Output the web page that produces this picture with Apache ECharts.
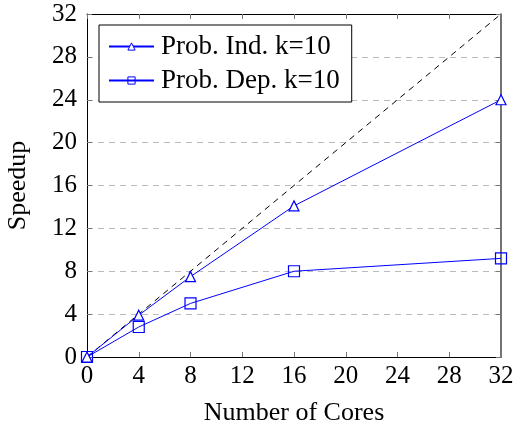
<!DOCTYPE html>
<html><head><meta charset="utf-8">
<script src="https://cdn.jsdelivr.net/npm/echarts@6/dist/echarts.min.js"></script>
<style>html,body{margin:0;padding:0;background:#fff}#c{width:514px;height:425px}</style>
</head><body><div id="c"></div>
<script>
const cores = [0, 4, 8, 16, 32];
const indK10 = [0, 3.9, 7.5, 14.1, 24];
const depK10 = [0, 2.8, 5.0, 8.0, 9.2];
const idealX = [0, 32];
const idealY = [0, 32];
const xTicks = [0, 4, 8, 12, 16, 20, 24, 28, 32];
const yTicks = [0, 4, 8, 12, 16, 20, 24, 28, 32];

const F = 'Liberation Serif';
const chart = echarts.init(document.getElementById('c'), null, {renderer: 'canvas'});
const pair = (xs, ys) => xs.map((x, i) => [x, ys[i]]);
const axBase = {
  type: 'value', min: 0, max: 32, interval: 4,
  axisLine: {show: true, onZero: false, lineStyle: {color: '#000', width: 1}},
  axisTick: {show: true, inside: true, length: 5, lineStyle: {color: '#777'}},
};
chart.setOption({
  animation: false,
  grid: {left: 87, right: 13, top: 14, bottom: 68, containLabel: false, outerBoundsMode: 'none'},
  legend: {
    data: ['Prob. Ind. k=10', 'Prob. Dep. k=10'],
    orient: 'vertical', left: 99, top: 25,
    backgroundColor: '#fff', borderColor: '#000', borderWidth: 1,
    padding: [8, 12, 8, 9], itemGap: 7, itemWidth: 45, itemHeight: 9,
    itemStyle: {borderWidth: 1},
    textStyle: {fontFamily: F, fontSize: 27, color: '#000', padding: [0, 0, 0, 2]}
  },
  xAxis: [
    Object.assign({}, axBase, {
      position: 'bottom', name: 'Number of Cores', nameLocation: 'middle', nameGap: 43,
      nameTextStyle: {fontFamily: F, fontSize: 26, color: '#000'},
      axisLabel: {fontFamily: F, fontSize: 25, color: '#000', margin: 7,
        formatter: v => xTicks.includes(v) ? String(v) : ''},
      splitLine: {show: false}
    }),
    Object.assign({}, axBase, {position: 'top', axisLabel: {show: false}, splitLine: {show: false}})
  ],
  yAxis: [
    Object.assign({}, axBase, {
      position: 'left', name: 'Speedup', nameLocation: 'middle', nameGap: 56,
      nameTextStyle: {fontFamily: F, fontSize: 26, color: '#000'},
      axisLabel: {fontFamily: F, fontSize: 25, color: '#000', margin: 10,
        formatter: v => yTicks.includes(v) ? String(v) : ''},
      splitLine: {show: true, lineStyle: {color: '#bbb', type: [6, 5], width: 1}}
    }),
    Object.assign({}, axBase, {position: 'right', axisLabel: {show: false}, splitLine: {show: false},
      axisLine: {show: true, onZero: false, lineStyle: {color: '#444', width: 1.5}}})
  ],
  series: [
    {
      name: 'Ideal', type: 'line', data: pair(idealX, idealY), symbol: 'none',
      lineStyle: {color: '#000', width: 1, type: [6, 5]}, silent: true, z: 1
    },
    {
      name: 'Prob. Ind. k=10', type: 'line', data: pair(cores, indK10),
      symbol: 'triangle', symbolSize: 10,
      lineStyle: {color: '#0000ff', width: 1},
      itemStyle: {color: '#fff', borderColor: '#0000ff', borderWidth: 1.2},
      z: 3
    },
    {
      name: 'Prob. Dep. k=10', type: 'line', data: pair(cores, depK10),
      symbol: 'rect', symbolSize: 11,
      lineStyle: {color: '#0000ff', width: 1},
      itemStyle: {color: 'rgba(255,255,255,0)', borderColor: '#0000ff', borderWidth: 1.2},
      z: 3
    }
  ]
});
</script></body></html>
